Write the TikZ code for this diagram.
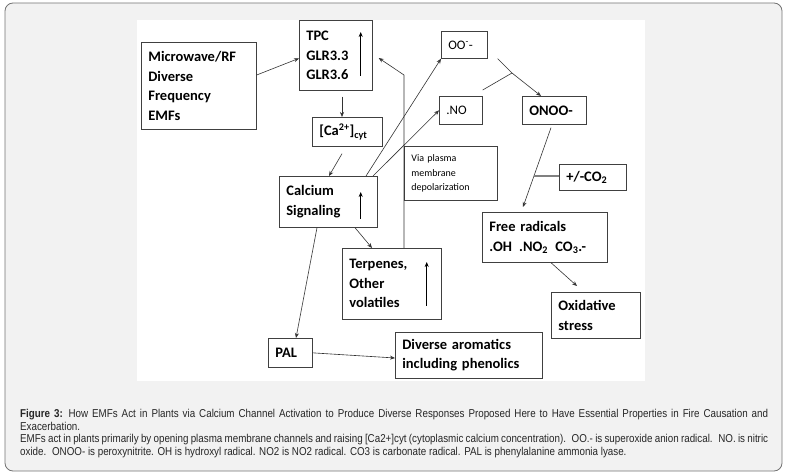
\documentclass[tikz,border=0pt]{standalone}
\usepackage{fontspec}
\setmainfont{Carlito}
\newfontfamily\capfont{Liberation Sans}[FakeStretch=0.86]
\usetikzlibrary{calc,arrows.meta}

\tikzset{
  box/.style={draw=black!75, line width=0.7pt, fill=white, inner xsep=7pt, inner ysep=2pt,
    align=left, font=\fontsize{14.5}{19.5}\selectfont\bfseries, anchor=north west},
  arr/.style={-{Stealth[length=5pt,width=4pt]}, line width=0.6pt, black!80},
  up/.style={-{Stealth[length=5pt,width=4pt]}, line width=0.7pt}
}

\begin{document}
\begin{tikzpicture}[x=1pt,y=-1pt]
  \useasboundingbox (0,0) rectangle (787,476);
  \draw[rounded corners=8pt, fill=black!5, draw=black!55, line width=0.8pt] (5,3) rectangle (782,471);
  \fill[white] (137,20) rectangle (645,381);

  % boxes
  \node[box, text width=101pt, minimum height=87pt] (emf) at (141,42) {Microwave/RF\\Diverse\\Frequency\\EMFs};
  \node[box, text width=59pt, minimum height=70pt] (tpc) at (299,20) {TPC\\GLR3.3\\GLR3.6};
  \node[box, text width=32pt, minimum height=27pt, font=\fontsize{13}{16}\selectfont] (oo) at (441,31) {OO\textsuperscript{-}-};
  \node[box, text width=29pt, minimum height=28pt, font=\fontsize{13}{16}\selectfont] (no) at (439,96) {.NO};
  \node[box, text width=50pt, minimum height=28pt] (onoo) at (522,96) {ONOO-};
  \node[box, text width=56pt, minimum height=29pt] (ca) at (312,117) {[Ca\textsuperscript{2+}]\textsubscript{cyt}};
  \node[box, text width=79pt, minimum height=54pt, font=\fontsize{10}{14.5}\selectfont] (via) at (404,146) {Via plasma\\membrane\\depolarization};
  \node[box, text width=53pt, minimum height=26pt] (co) at (559,164) {+/-CO\textsubscript{2}};
  \node[box, text width=84pt, minimum height=51pt] (sig) at (279,176) {Calcium\\Signaling};
  \node[box, text width=111pt, minimum height=50pt] (free) at (482,212) {Free radicals\\.OH\enspace.NO\textsubscript{2}\enspace CO\textsubscript{3}.-};
  \node[box, text width=85pt, minimum height=71pt] (terp) at (342,248) {Terpenes,\\Other\\volatiles};
  \node[box, text width=75pt, minimum height=46pt] (ox) at (551,292) {Oxidative\\stress};
  \node[box, text width=30pt, minimum height=29pt] (pal) at (268,338) {PAL};
  \node[box, text width=133pt, minimum height=46pt] (aro) at (395,332) {Diverse aromatics\\including phenolics};

  % rise arrows inside boxes
  \draw[up] ([xshift=-12pt,yshift=15pt]tpc.south east) -- ([xshift=-12pt,yshift=-12pt]tpc.north east);
  \draw[up] ([xshift=-17pt,yshift=9pt]sig.south east) -- ([xshift=-17pt,yshift=-16pt]sig.north east);
  \draw[up] ([xshift=-15pt,yshift=14pt]terp.south east) -- ([xshift=-15pt,yshift=-14pt]terp.north east);

  % connectors
  \draw[arr] (emf.east |- 0,75) -- ([yshift=-3pt]tpc.west);
  \draw[arr] ([xshift=43pt,yshift=-6pt]tpc.south west) -- ([xshift=30pt]ca.north west);
  \draw[arr] ([xshift=30pt,yshift=-7pt]ca.south west) -- ([xshift=50pt]sig.north west);
  \draw[arr] ([xshift=87pt]sig.north west) -- (oo.south west);
  \draw[arr] ([xshift=94pt]sig.north west) -- (no.west);
  \coordinate (bend) at (via.west |- 0,75);
  \draw[arr] ([xshift=62pt]terp.north west) -- (bend) -- ([xshift=6pt,yshift=-38pt]tpc.north east);
  \draw[arr] ([xshift=76pt]sig.south west) -- ([xshift=30pt]terp.north west);
  \draw[arr] ([xshift=38pt]sig.south west) -- ([xshift=28pt]pal.north west);
  \draw[arr] (pal.east) -- ([yshift=-26pt]aro.north west);
  \coordinate (meet) at (512,73);
  \draw[line width=0.6pt, black!80] ([xshift=10pt]oo.south east) -- (meet);
  \draw[line width=0.6pt, black!80] ([yshift=6pt]no.north east) -- (meet);
  \draw[arr] (meet) -- ([xshift=19pt]onoo.north west);
  \coordinate (mid) at (534,176);
  \draw[arr] ([xshift=29pt,yshift=-3pt]onoo.south west) -- ([xshift=41pt,yshift=5pt]free.north west);
  \draw[line width=1.6pt, black!50] (mid) -- (co.west |- mid);
  \draw[arr] ([xshift=69pt]free.south west) -- ([xshift=26pt,yshift=6pt]ox.north west);

  % caption
  \node[anchor=north west, text width=748pt, align=justify, inner sep=0pt,
    font=\capfont\fontsize{11.4}{12.6}\selectfont, black!85] (cap) at (20,409)
    {\textbf{Figure 3:}\enspace How EMFs Act in Plants via Calcium Channel Activation to Produce Diverse Responses Proposed Here to Have Essential Properties in Fire Causation and Exacerbation.\\
    EMFs act in plants primarily by opening plasma membrane channels and raising [Ca2+]cyt (cytoplasmic calcium concentration).\enspace OO.- is superoxide anion radical.\enspace NO. is nitric oxide.\enspace ONOO- is peroxynitrite. OH is hydroxyl radical. NO2 is NO2 radical. CO3 is carbonate radical. PAL is phenylalanine ammonia lyase.};
\end{tikzpicture}
\end{document}
